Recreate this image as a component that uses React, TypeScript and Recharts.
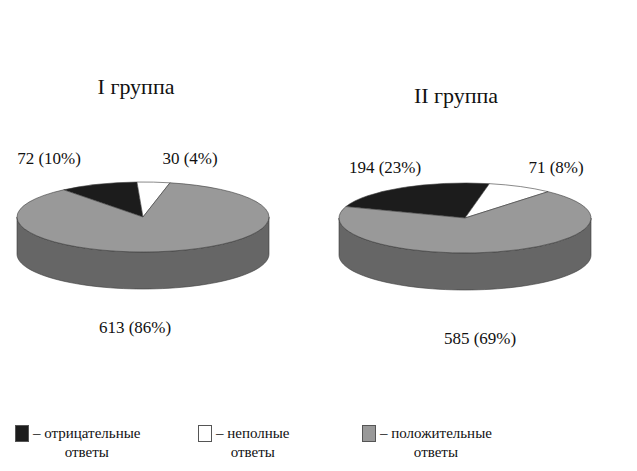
import React from 'react';
import { PieChart, Pie, Cell } from 'recharts';

// ── две 3D-диаграммы ответов по группам ──

const categories = ['отрицательные ответы', 'неполные ответы', 'положительные ответы'];
const groupTitles = ['I группа', 'II группа'];
const group1Values = [72, 30, 613];
const group2Values = [194, 71, 585];

const topColors = ['#1c1c1c', '#ffffff', '#999999'];
const sideColors = ['#111111', '#cfcfcf', '#666666'];

const W = 637;
const H = 471;
const FONT = "'Liberation Serif', 'Times New Roman', serif";
const TILT = 35 / 126; // отношение осей эллипса
const DEPTH = 37;

// где стоят подписи (центр текста) относительно центра пирога
const labelOffsets = [
  [[-94, -59], [47, -59], [-8, 110]],
  [[-80, -51], [91, -51], [15, 120]],
];

const pies = [
  { values: group1Values, cx: 143, cy: 217, start: 129 },
  { values: group2Values, cx: 465, cy: 218, start: 161 },
];

const rad = Math.PI / 180;

function rim(cx: number, cy: number, rx: number, ry: number, a: number, dy = 0) {
  return [cx + rx * Math.cos(a * rad), cy - ry * Math.sin(a * rad) + dy];
}

// верх сектора + видимая боковая стенка
function Slice3D(props: any) {
  const { cx, cy, outerRadius, startAngle, endAngle, index } = props;
  const rx = outerRadius;
  const ry = outerRadius * TILT;
  const hi = Math.max(startAngle, endAngle);
  const lo = Math.min(startAngle, endAngle);
  const top = topColors[index % 3];
  const side = sideColors[index % 3];

  const walls: string[] = [];
  for (let k = -2; k <= 2; k++) {
    const a1 = Math.max(lo, 180 + 360 * k);
    const a2 = Math.min(hi, 360 + 360 * k);
    if (a2 <= a1) continue;
    const n = 60;
    const pts: number[][] = [];
    for (let i = 0; i <= n; i++) pts.push(rim(cx, cy, rx, ry, a1 + ((a2 - a1) * i) / n));
    for (let i = n; i >= 0; i--) pts.push(rim(cx, cy, rx, ry, a1 + ((a2 - a1) * i) / n, DEPTH));
    walls.push('M' + pts.map((p) => p[0].toFixed(2) + ',' + p[1].toFixed(2)).join('L') + 'Z');
  }

  const p1 = rim(cx, cy, rx, ry, hi);
  const p2 = rim(cx, cy, rx, ry, lo);
  const large = hi - lo > 180 ? 1 : 0;
  const d = `M${cx},${cy}L${p1[0]},${p1[1]}A${rx},${ry} 0 ${large} 1 ${p2[0]},${p2[1]}Z`;

  return (
    <g>
      {walls.map((w, i) => (
        <path key={i} d={w} fill={side} stroke="#3a3a3a" strokeWidth={0.6} />
      ))}
      <path d={d} fill={top} stroke="#3a3a3a" strokeWidth={0.6} />
    </g>
  );
}

function makeLabel(g: number, total: number) {
  return (props: any) => {
    const { cx, cy, index, value } = props;
    const [ox, oy] = labelOffsets[g][index];
    const pct = Math.round((value / total) * 100);
    return (
      <text
        x={cx + ox}
        y={cy + oy}
        textAnchor="middle"
        dominantBaseline="central"
        style={{ fontFamily: FONT, fontSize: 17 }}
        fill="#111"
      >
        {`${value} (${pct}%)`}
      </text>
    );
  };
}

const titlePos = [
  { x: 136, y: 87 },
  { x: 456, y: 96 },
];

const legendPos = [
  { x: 15, w: 160 },
  { x: 198, w: 120 },
  { x: 362, w: 160 },
];

export default function App() {
  return (
    <div style={{ position: 'absolute', left: 0, top: 0, width: W, height: H, background: '#fff' }}>
      <PieChart width={W} height={H} margin={{ top: 0, right: 0, bottom: 0, left: 0 }}>
        {pies.map((p, g) => {
          const data = p.values.map((v, i) => ({ name: categories[i], value: v }));
          const total = p.values.reduce((s, v) => s + v, 0);
          return (
            <Pie
              key={g}
              data={data}
              dataKey="value"
              cx={p.cx}
              cy={p.cy}
              outerRadius={126}
              startAngle={p.start}
              endAngle={p.start - 360}
              paddingAngle={0}
              stroke="none"
              shape={Slice3D}
              activeShape={Slice3D}
              inactiveShape={Slice3D}
              label={makeLabel(g, total)}
              labelLine={false}
              isAnimationActive={false}
            >
              {data.map((d, i) => (
                <Cell key={i} fill={topColors[i]} />
              ))}
            </Pie>
          );
        })}
      </PieChart>

      {groupTitles.map((t, i) => (
        <div
          key={t}
          style={{
            position: 'absolute',
            left: titlePos[i].x - 60,
            top: titlePos[i].y - 14,
            width: 120,
            textAlign: 'center',
            fontFamily: FONT,
            fontSize: 22,
            lineHeight: '28px',
            color: '#111',
          }}
        >
          {t}
        </div>
      ))}

      {categories.map((c, i) => {
        const [first, second] = c.split(' ');
        return (
          <div
            key={c}
            style={{ position: 'absolute', left: legendPos[i].x, top: 424, fontFamily: FONT, fontSize: 15, color: '#111' }}
          >
            <div style={{ display: 'flex', alignItems: 'center' }}>
              <span
                style={{
                  display: 'inline-block',
                  width: 12,
                  height: 15,
                  background: topColors[i],
                  border: '1px solid #555',
                  marginRight: 4,
                }}
              />
              <span style={{ lineHeight: '18px' }}>– {first}</span>
            </div>
            <div style={{ textAlign: 'center', paddingLeft: 18, lineHeight: '20px' }}>{second}</div>
          </div>
        );
      })}
    </div>
  );
}
